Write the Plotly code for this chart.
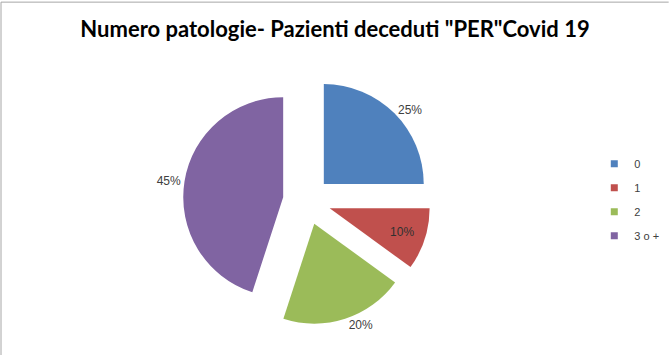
import plotly.graph_objects as go

categories = ["0", "1", "2", "3 o +"]
values = [25, 10, 20, 45]
colors = ["#4F81BD", "#C0504D", "#9BBB59", "#8064A2"]
text_positions = ["outside", "inside", "outside", "outside"]
title = "Numero patologie- Pazienti deceduti \"PER\"Covid 19"

fig = go.Figure()
fig.add_trace(go.Pie(
    labels=categories,
    values=values,
    marker=dict(colors=colors, line=dict(width=0)),
    sort=False,
    direction="clockwise",
    rotation=0,
    pull=[0.24] * len(values),
    textinfo="percent",
    texttemplate="%{percent:.0%}",
    textposition=text_positions,
    textfont=dict(family="Liberation Sans", size=12, color="#404040"),
    insidetextfont=dict(color="#303030"),
    domain=dict(x=[0.273, 0.643], y=[0.085, 0.783]),
    hoverinfo="label+percent",
    showlegend=False,
))

# legend entries (small square swatches like the original)
for cat, col in zip(categories, colors):
    fig.add_trace(go.Scatter(
        x=[None], y=[None], mode="markers", name=cat, legendgroup=cat,
        marker=dict(symbol="square", size=7, color=col),
        showlegend=True, hoverinfo="skip",
    ))

fig.update_xaxes(visible=False)
fig.update_yaxes(visible=False)

fig.update_layout(
    width=670, height=355,
    margin=dict(l=0, r=0, t=0, b=0, autoexpand=False),
    paper_bgcolor="white",
    plot_bgcolor="white",
    title=dict(text="<b>" + title + "</b>", x=0.5, xanchor="center", y=0.918, yanchor="middle",
               font=dict(family="Lato", size=22, color="black")),
    showlegend=True,
    legend=dict(x=0.887, y=0.437, xanchor="left", yanchor="middle",
                font=dict(family="Liberation Sans", size=11, color="#404040"),
                tracegroupgap=5, itemwidth=30, bgcolor="rgba(0,0,0,0)"),
    shapes=[
        dict(type="line", xref="paper", yref="paper", x0=0.0015, x1=0.998, y0=0.994, y1=0.994,
             line=dict(color="#A6A6A6", width=1)),
        dict(type="line", xref="paper", yref="paper", x0=0.0015, x1=0.0015, y0=0, y1=0.994,
             line=dict(color="#A6A6A6", width=1)),
    ],
)

fig.write_html("out.html")
